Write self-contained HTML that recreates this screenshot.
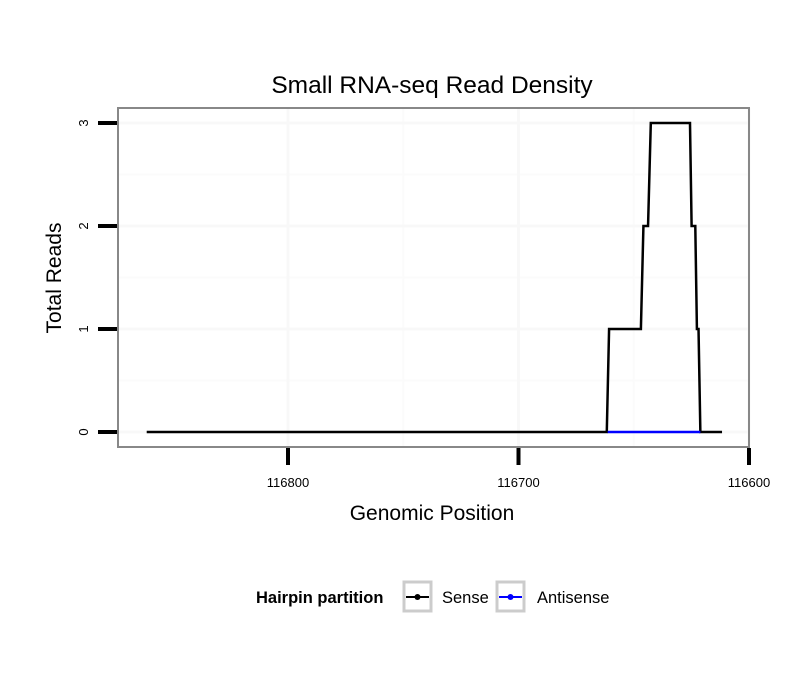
<!DOCTYPE html>
<html><head><meta charset="utf-8"><style>
body{margin:0;background:#fff}
svg text{font-family:"Liberation Sans",Arial,sans-serif}
</style></head><body>
<svg width="810" height="690" viewBox="0 0 810 690">
<rect width="810" height="690" fill="#fff"/>
<text x="432" y="93" text-anchor="middle" font-size="24.5">Small RNA-seq Read Density</text>
<g id="grid"></g>
<rect x="118" y="108" width="631" height="339" fill="none" stroke="#888" stroke-width="2"/>
<g id="axes"></g>
<g id="series"></g>
<text x="432" y="520" text-anchor="middle" font-size="21">Genomic Position</text>
<text transform="translate(61,278) rotate(-90)" text-anchor="middle" font-size="21">Total Reads</text>
<g>
<text x="256" y="603" font-size="16.5" font-weight="bold">Hairpin partition</text>
<g>
<rect x="404" y="582" width="27" height="29" fill="#fff" stroke="#ccc" stroke-width="3"/>
<line x1="406" y1="597" x2="429" y2="597" stroke="#000" stroke-width="2"/><circle cx="417.5" cy="597" r="3" fill="#000"/>
<text x="442" y="603" font-size="16.5">Sense</text></g>
<g>
<rect x="497" y="582" width="27" height="29" fill="#fff" stroke="#ccc" stroke-width="3"/>
<line x1="499" y1="597" x2="522" y2="597" stroke="#00f" stroke-width="2"/><circle cx="510.5" cy="597" r="3" fill="#00f"/>
<text x="537" y="603" font-size="16.5">Antisense</text></g>
</g>
</svg>
<script>
const senseX=[116861.3,116661.7,116660.7,116646.9,116645.8,116643.8,116642.6,116625.6,116624.9,116623.3,116622.6,116621.9,116621.1,116611.7];
const senseY=[0,0,1,1,2,2,3,3,2,2,1,1,0,0];
const antiX=[116661.3,116621.1];
const antiY=[0,0];
const xTicks=[116800,116700,116600];
const yTicks=[0,1,2,3];
const NS="http://www.w3.org/2000/svg";
function sx(v){return 288+(116800-v)*2.305;}
function sy(v){return 432-v*103;}
function mk(t,a,p){const e=document.createElementNS(NS,t);for(const k in a)e.setAttribute(k,a[k]);p.appendChild(e);return e;}
const grid=document.getElementById('grid'),axes=document.getElementById('axes'),ser=document.getElementById('series');
[116750,116650].forEach(v=>{const l=mk('line',{x1:sx(v),x2:sx(v),y1:108,y2:447,stroke:'#fbfbfb','stroke-width':2},grid);

});
[0.5,1.5,2.5].forEach(v=>{const l=mk('line',{x1:118,x2:749,y1:sy(v),y2:sy(v),stroke:'#fbfbfb','stroke-width':2},grid);

});
xTicks.forEach(v=>{const l=mk('line',{x1:sx(v),x2:sx(v),y1:108,y2:447,stroke:'#f8f8f8','stroke-width':3},grid);


const t=mk('line',{x1:sx(v),x2:sx(v),y1:448,y2:465,stroke:'#000','stroke-width':4},axes);


const tx=mk('text',{x:sx(v),y:487,'text-anchor':'middle','font-size':13},axes);tx.textContent=v;

});
yTicks.forEach(v=>{const l=mk('line',{x1:118,x2:749,y1:sy(v),y2:sy(v),stroke:'#f8f8f8','stroke-width':3},grid);


const t=mk('line',{x1:98,x2:117,y1:sy(v),y2:sy(v),stroke:'#000','stroke-width':4},axes);


const tx=mk('text',{transform:`translate(88,${sy(v)}) rotate(-90)`,'text-anchor':'middle','font-size':13},axes);tx.textContent=v;

});
function pts(X,Y){return X.map((x,i)=>sx(x)+','+sy(Y[i])).join(' ');}
const s=mk('polyline',{points:pts(senseX,senseY),fill:'none',stroke:'#000','stroke-width':2.5},ser);


const a=mk('polyline',{points:pts(antiX,antiY),fill:'none',stroke:'#00f','stroke-width':2.5},ser);


</script>
</body></html>
